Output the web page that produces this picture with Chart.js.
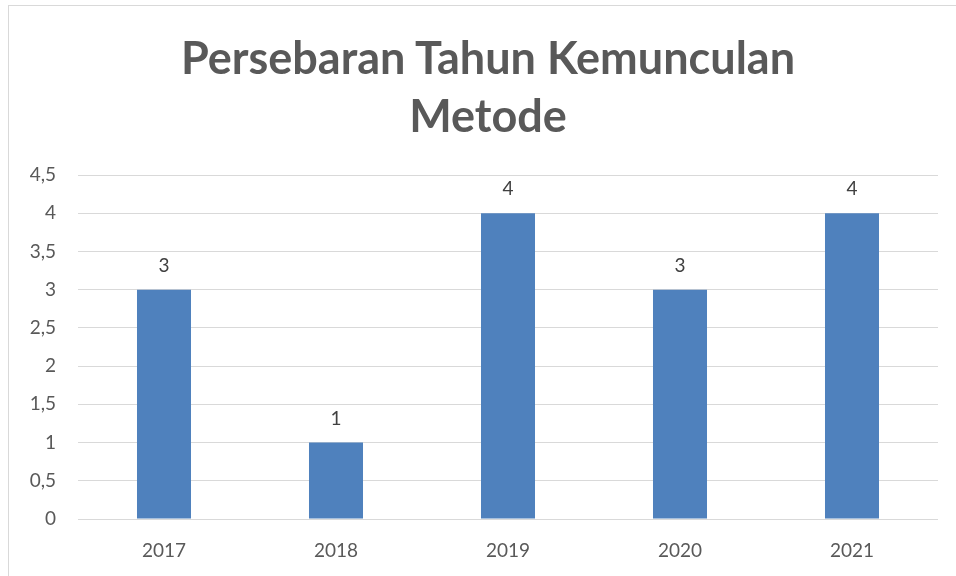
<!DOCTYPE html>
<html>
<head>
<meta charset="utf-8">
<script src="https://cdn.jsdelivr.net/npm/chart.js@4/dist/chart.umd.min.js"></script>
<style>
  html, body { margin: 0; padding: 0; background: #fff; overflow: hidden; }
  #frame { position: absolute; left: 8px; top: 5px; width: 1000px; height: 600px;
           border: 1px solid #d9d9d9; box-sizing: border-box; }
  #chart { position: absolute; left: 0; top: 0; }
  #title { position: absolute; left: 288px; top: 28px; width: 400px; text-align: center;
           font: bold 45px/58px Lato, sans-serif; color: #595959; white-space: nowrap;
           display: flex; flex-direction: column; align-items: center; }
</style>
</head>
<body>
<div id="frame"></div>
<canvas id="chart" width="956" height="576"></canvas>
<div id="title"></div>
<script>
// chart data
const years = ['2017', '2018', '2019', '2020', '2021'];
const counts = [3, 1, 4, 3, 4];
const titleLines = ['Persebaran Tahun Kemunculan', 'Metode'];

var titleEl = document.getElementById('title');
titleLines.forEach(line => {
    var span = document.createElement('span');
    span.textContent = line;
    titleEl.appendChild(span);
});

// draws the value above each bar
const valueLabels = {
    id: 'valueLabels',
    afterDatasetsDraw(chart) {
        const ctx = chart.ctx;
        ctx.save();
        ctx.font = '19px Lato';
        ctx.fillStyle = '#404040';
        ctx.textAlign = 'center';
        ctx.textBaseline = 'middle';
        chart.getDatasetMeta(0).data.forEach((bar, i) => {
            ctx.fillText(String(counts[i]), bar.x, bar.y - 24);
        });
        ctx.restore();
    }
};

var ctx = document.getElementById('chart').getContext('2d');
new Chart(ctx, {
    type: 'bar',
    data: {
        labels: years,
        datasets: [{
            data: counts,
            backgroundColor: '#4f81bd',
            borderWidth: 0,
            categoryPercentage: 1,
            barPercentage: 0.314
        }]
    },
    options: {
        responsive: false,
        animation: false,
        layout: { padding: { left: 0, right: 18, top: 175, bottom: 0 } },
        plugins: {
            legend: { display: false },
            tooltip: { enabled: false },
            title: { display: false }
        },
        scales: {
            x: {
                grid: { display: false, drawTicks: false },
                border: { display: false },
                ticks: { color: '#595959', font: { family: 'Lato', size: 19 }, padding: 20 },
                afterFit: s => { s.height = 57; }
            },
            y: {
                min: 0,
                max: 4.5,
                grid: { color: '#d9d9d9', lineWidth: 1, drawTicks: false },
                border: { display: false },
                ticks: {
                    stepSize: 0.5,
                    color: '#595959',
                    font: { family: 'Lato', size: 19 },
                    padding: 22,
                    callback: v => String(v).replace('.', ',')
                },
                afterFit: s => { s.width = 78; }
            }
        }
    },
    plugins: [valueLabels]
});
</script>
</body>
</html>
